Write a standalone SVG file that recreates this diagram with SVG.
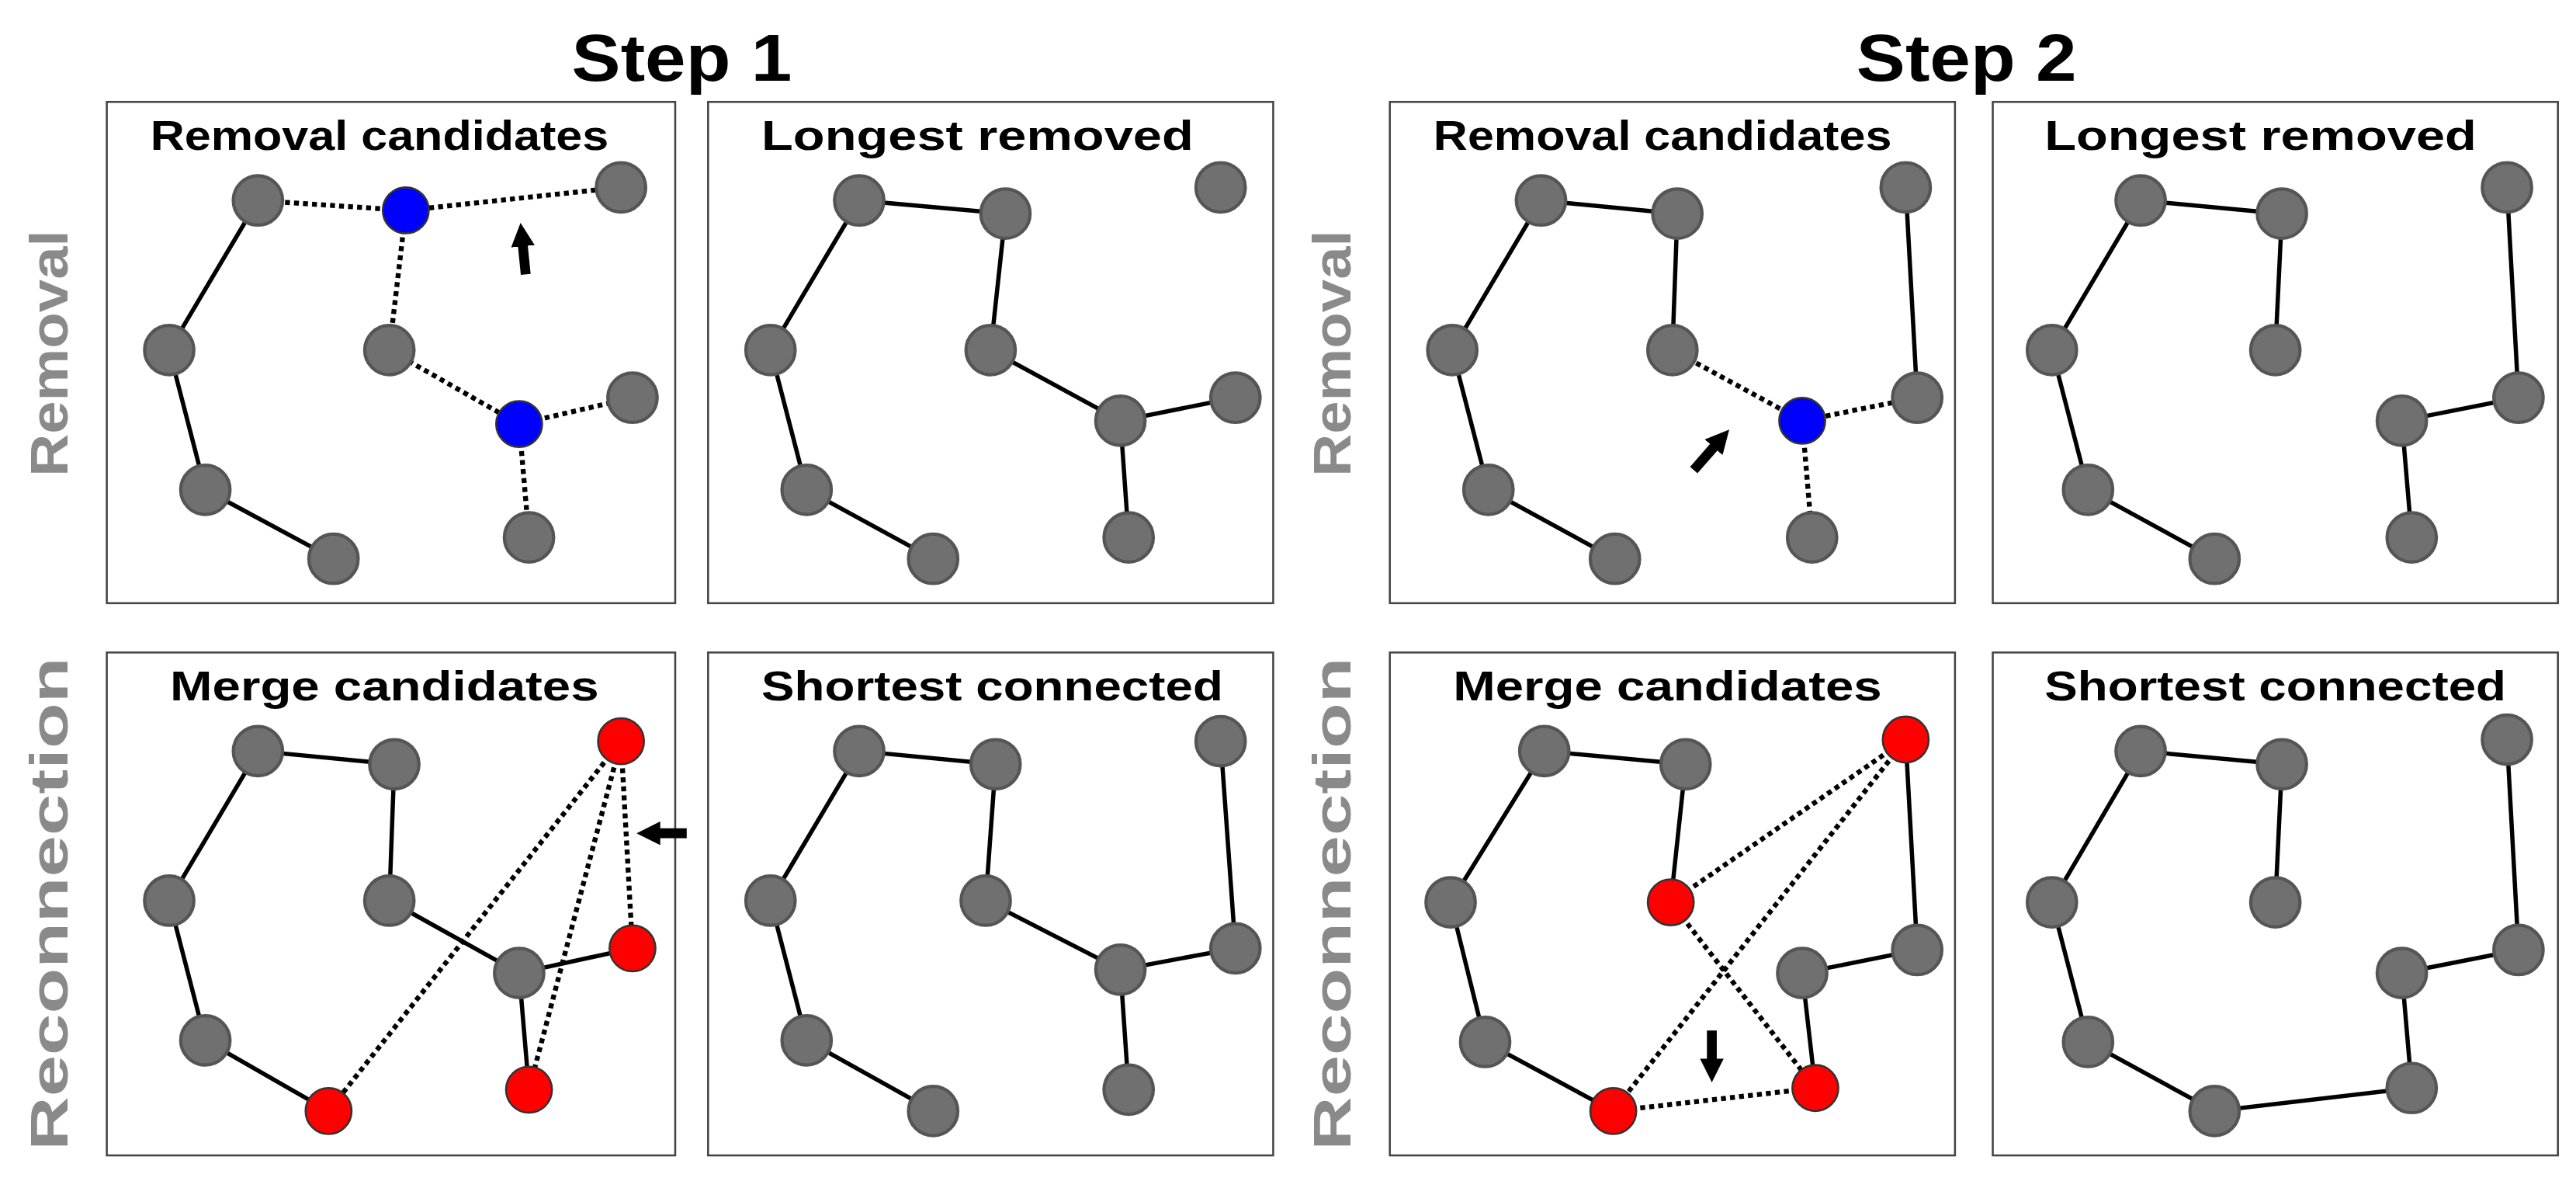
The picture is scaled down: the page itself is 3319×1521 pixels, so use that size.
<svg xmlns="http://www.w3.org/2000/svg" width="3319" height="1521" viewBox="0 0 3319 1521">
<style>
.p{fill:#fff;stroke:#444;stroke-width:1.2}
.n{fill:#707070;stroke:#555;stroke-width:2}
.b{fill:#0000ff;stroke:#333;stroke-width:1.2}
.r{fill:#ff0000;stroke:#333;stroke-width:1.2}
.s{stroke:#000;stroke-width:2.6;fill:none}
.d{stroke:#000;stroke-width:3;stroke-dasharray:3 2.5;fill:none}
.a{stroke:#000;stroke-width:6;fill:none}
.t{font-family:"Liberation Sans Narrow","Liberation Sans",Arial,sans-serif;font-weight:bold;font-size:25px;text-anchor:middle}
.h{font-family:"Liberation Sans Narrow","Liberation Sans",Arial,sans-serif;font-weight:bold;font-size:40px;text-anchor:middle}
.v{font-family:"Liberation Sans",Arial,sans-serif;font-weight:bold;font-size:32px;fill:#8a8a8a;text-anchor:middle}
</style>
<defs>
<marker id="ah" viewBox="0 0 10 10" refX="2" refY="5" markerWidth="2.4" markerHeight="2.4" orient="auto" markerUnits="strokeWidth"><path d="M0,0L10,5L0,10z" fill="#000"/></marker>
</defs>
<rect width="3319" height="1521" fill="#fff"/>
<g transform="scale(2.1167)">
<g id="labels">
<text class="h" x="415" y="49" textLength="134" lengthAdjust="spacingAndGlyphs">Step 1</text>
<text class="h" x="1197" y="49" textLength="134" lengthAdjust="spacingAndGlyphs">Step 2</text>
<text class="v" transform="translate(41,215) rotate(-90)" textLength="150" lengthAdjust="spacingAndGlyphs">Removal</text>
<text class="v" transform="translate(41,550) rotate(-90)" textLength="300" lengthAdjust="spacingAndGlyphs">Reconnection</text>
<text class="v" transform="translate(822,215) rotate(-90)" textLength="150" lengthAdjust="spacingAndGlyphs">Removal</text>
<text class="v" transform="translate(822,550) rotate(-90)" textLength="300" lengthAdjust="spacingAndGlyphs">Reconnection</text>
</g>
<g id="panels">
<rect class="p" x="65" y="62" width="346" height="305"/>
<rect class="p" x="431" y="62" width="344" height="305"/>
<rect class="p" x="846" y="62" width="344" height="305"/>
<rect class="p" x="1213" y="62" width="344" height="305"/>
<rect class="p" x="65" y="397" width="346" height="306"/>
<rect class="p" x="431" y="397" width="344" height="306"/>
<rect class="p" x="846" y="397" width="344" height="306"/>
<rect class="p" x="1213" y="397" width="344" height="306"/>
<text class="t" x="231" y="91" textLength="279" lengthAdjust="spacingAndGlyphs">Removal candidates</text>
<text class="t" x="595" y="91" textLength="263" lengthAdjust="spacingAndGlyphs">Longest removed</text>
<text class="t" x="1012" y="91" textLength="279" lengthAdjust="spacingAndGlyphs">Removal candidates</text>
<text class="t" x="1376" y="91" textLength="263" lengthAdjust="spacingAndGlyphs">Longest removed</text>
<text class="t" x="234" y="426" textLength="261" lengthAdjust="spacingAndGlyphs">Merge candidates</text>
<text class="t" x="604" y="426" textLength="281" lengthAdjust="spacingAndGlyphs">Shortest connected</text>
<text class="t" x="1015" y="426" textLength="261" lengthAdjust="spacingAndGlyphs">Merge candidates</text>
<text class="t" x="1385" y="426" textLength="281" lengthAdjust="spacingAndGlyphs">Shortest connected</text>
</g>
<g id="connectors">
<path class="s" d="M157,122L103,213L125,298L203,340"/>
<path class="d" d="M157,122L247,128L378,114M247,128L237,213L316,258L385,242M316,258L322,327"/>
<path class="a" d="M320,167L318,147" marker-end="url(#ah)"/>
<path class="s" d="M612,130L523,122L469,213L491,298L568,340M612,130L603,213L682,256L752,242M682,256L687,327"/>
<path class="s" d="M1021,130L938,122L884,213L906,298L983,340M1021,130L1018,213M1160,114L1167,242"/>
<path class="d" d="M1018,213L1097,256L1167,242M1097,256L1103,327"/>
<path class="a" d="M1031,286L1045,270" marker-end="url(#ah)"/>
<path class="s" d="M1389,130L1303,122L1249,213L1271,298L1348,340M1389,130L1385,213M1526,114L1533,242L1462,256L1468,327"/>
<path class="s" d="M240,465L157,457L103,548L125,633L200,676M240,465L237,548L316,592L385,577M316,592L322,663"/>
<path class="d" d="M378,451L385,577M378,451L200,676M378,451L322,663"/>
<path class="a" d="M418,507L399,507" marker-end="url(#ah)"/>
<path class="s" d="M606,465L523,457L469,548L491,633L568,676M606,465L600,548L682,590L752,577L743,451M682,590L687,663"/>
<path class="s" d="M1026,465L940,457L883,549L904,634L982,676M1026,465L1017,549M1160,450L1167,578L1097,592L1105,662"/>
<path class="d" d="M1160,450L1017,549M1160,450L982,676M1017,549L1105,662L982,676"/>
<path class="a" d="M1042,627L1042,647" marker-end="url(#ah)"/>
<path class="s" d="M1389,465L1303,457L1249,549L1271,634L1348,676L1468,662L1462,592L1533,578L1526,450M1389,465L1385,549"/>
</g>
<g id="nodes1">
<circle id="p1a" class="n" cx="157" cy="122" r="15"/><circle id="p1b" class="b" cx="247" cy="128" r="14"/><circle id="p1c" class="n" cx="378" cy="114" r="15"/><circle id="p1d" class="n" cx="103" cy="213" r="15"/><circle id="p1e" class="n" cx="237" cy="213" r="15"/><circle id="p1f" class="b" cx="316" cy="258" r="14"/><circle id="p1g" class="n" cx="385" cy="242" r="15"/><circle id="p1h" class="n" cx="125" cy="298" r="15"/><circle id="p1i" class="n" cx="203" cy="340" r="15"/><circle id="p1j" class="n" cx="322" cy="327" r="15"/>
</g>
<g id="nodes2">
<circle id="p2a" class="n" cx="523" cy="122" r="15"/><circle id="p2b" class="n" cx="612" cy="130" r="15"/><circle id="p2c" class="n" cx="743" cy="114" r="15"/><circle id="p2d" class="n" cx="469" cy="213" r="15"/><circle id="p2e" class="n" cx="603" cy="213" r="15"/><circle id="p2f" class="n" cx="682" cy="256" r="15"/><circle id="p2g" class="n" cx="752" cy="242" r="15"/><circle id="p2h" class="n" cx="491" cy="298" r="15"/><circle id="p2i" class="n" cx="568" cy="340" r="15"/><circle id="p2j" class="n" cx="687" cy="327" r="15"/>
</g>
<g id="nodes3">
<circle id="p3a" class="n" cx="938" cy="122" r="15"/><circle id="p3b" class="n" cx="1021" cy="130" r="15"/><circle id="p3c" class="n" cx="1160" cy="114" r="15"/><circle id="p3d" class="n" cx="884" cy="213" r="15"/><circle id="p3e" class="n" cx="1018" cy="213" r="15"/><circle id="p3f" class="b" cx="1097" cy="256" r="14"/><circle id="p3g" class="n" cx="1167" cy="242" r="15"/><circle id="p3h" class="n" cx="906" cy="298" r="15"/><circle id="p3i" class="n" cx="983" cy="340" r="15"/><circle id="p3j" class="n" cx="1103" cy="327" r="15"/>
</g>
<g id="nodes4">
<circle id="p4a" class="n" cx="1303" cy="122" r="15"/><circle id="p4b" class="n" cx="1389" cy="130" r="15"/><circle id="p4c" class="n" cx="1526" cy="114" r="15"/><circle id="p4d" class="n" cx="1249" cy="213" r="15"/><circle id="p4e" class="n" cx="1385" cy="213" r="15"/><circle id="p4f" class="n" cx="1462" cy="256" r="15"/><circle id="p4g" class="n" cx="1533" cy="242" r="15"/><circle id="p4h" class="n" cx="1271" cy="298" r="15"/><circle id="p4i" class="n" cx="1348" cy="340" r="15"/><circle id="p4j" class="n" cx="1468" cy="327" r="15"/>
</g>
<g id="nodes5">
<circle id="p5a" class="n" cx="157" cy="457" r="15"/><circle id="p5b" class="n" cx="240" cy="465" r="15"/><circle id="p5c" class="r" cx="378" cy="451" r="14"/><circle id="p5d" class="n" cx="103" cy="548" r="15"/><circle id="p5e" class="n" cx="237" cy="548" r="15"/><circle id="p5f" class="n" cx="316" cy="592" r="15"/><circle id="p5g" class="r" cx="385" cy="577" r="14"/><circle id="p5h" class="n" cx="125" cy="633" r="15"/><circle id="p5i" class="r" cx="200" cy="676" r="14"/><circle id="p5j" class="r" cx="322" cy="663" r="14"/>
</g>
<g id="nodes6">
<circle id="p6a" class="n" cx="523" cy="457" r="15"/><circle id="p6b" class="n" cx="606" cy="465" r="15"/><circle id="p6c" class="n" cx="743" cy="451" r="15"/><circle id="p6d" class="n" cx="469" cy="548" r="15"/><circle id="p6e" class="n" cx="600" cy="548" r="15"/><circle id="p6f" class="n" cx="682" cy="590" r="15"/><circle id="p6g" class="n" cx="752" cy="577" r="15"/><circle id="p6h" class="n" cx="491" cy="633" r="15"/><circle id="p6i" class="n" cx="568" cy="676" r="15"/><circle id="p6j" class="n" cx="687" cy="663" r="15"/>
</g>
<g id="nodes7">
<circle id="p7a" class="n" cx="940" cy="457" r="15"/><circle id="p7b" class="n" cx="1026" cy="465" r="15"/><circle id="p7c" class="r" cx="1160" cy="450" r="14"/><circle id="p7d" class="n" cx="883" cy="549" r="15"/><circle id="p7e" class="r" cx="1017" cy="549" r="14"/><circle id="p7f" class="n" cx="1097" cy="592" r="15"/><circle id="p7g" class="n" cx="1167" cy="578" r="15"/><circle id="p7h" class="n" cx="904" cy="634" r="15"/><circle id="p7i" class="r" cx="982" cy="676" r="14"/><circle id="p7j" class="r" cx="1105" cy="662" r="14"/>
</g>
<g id="nodes8">
<circle id="p8a" class="n" cx="1303" cy="457" r="15"/><circle id="p8b" class="n" cx="1389" cy="465" r="15"/><circle id="p8c" class="n" cx="1526" cy="450" r="15"/><circle id="p8d" class="n" cx="1249" cy="549" r="15"/><circle id="p8e" class="n" cx="1385" cy="549" r="15"/><circle id="p8f" class="n" cx="1462" cy="592" r="15"/><circle id="p8g" class="n" cx="1533" cy="578" r="15"/><circle id="p8h" class="n" cx="1271" cy="634" r="15"/><circle id="p8i" class="n" cx="1348" cy="676" r="15"/><circle id="p8j" class="n" cx="1468" cy="662" r="15"/>
</g>
</g>
</svg>
